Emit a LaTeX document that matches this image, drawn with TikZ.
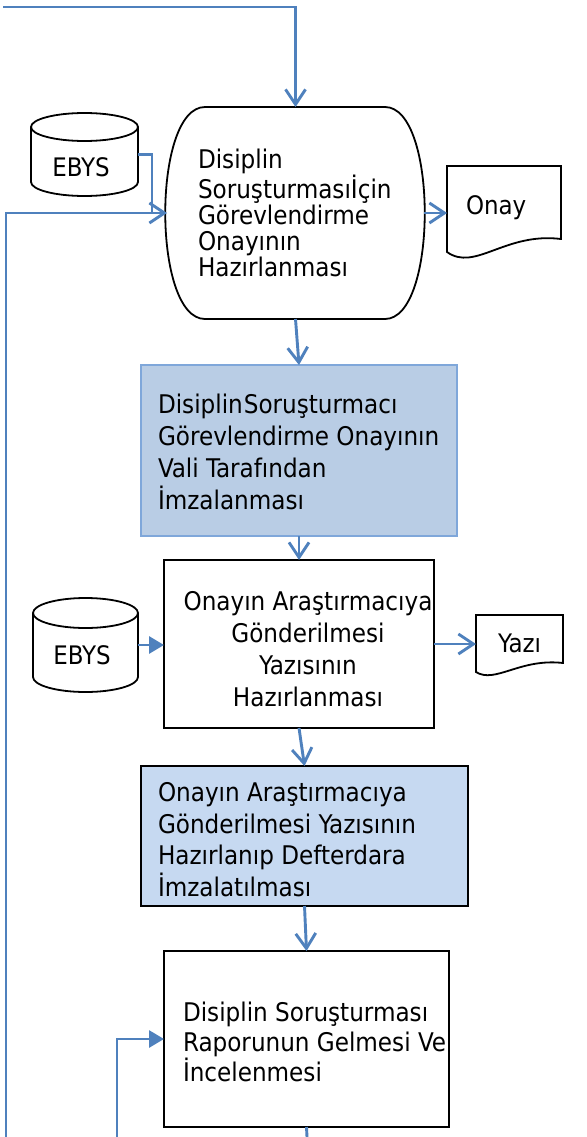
\documentclass[tikz,border=0pt]{standalone}
\usepackage{fontspec}
\setmainfont{DejaVu Sans Condensed}
\usetikzlibrary{arrows.meta,calc}
\definecolor{flowblue}{HTML}{4F81BD}
\definecolor{boxblue}{HTML}{B9CDE5}
\definecolor{boxblueline}{HTML}{7FA7DA}
\definecolor{boxlight}{HTML}{C6D9F1}
\begin{document}
\begin{tikzpicture}[x=1pt,y=-1pt,
  flow/.style={draw=flowblue,line width=2.9pt,-{Straight Barb[length=15pt,width=20pt,line width=2.9pt]}},
  flowfill/.style={draw=flowblue,line width=2.9pt,-{Triangle[length=15pt,width=17pt]}},
  plain/.style={draw=flowblue,line width=2.9pt},
  outline/.style={draw=black,line width=1.8pt},
  frame/.style={inner sep=0,outer sep=0,anchor=north west},
  txt/.style={inner sep=0,outer sep=0,font=\fontsize{25.7}{32}\selectfont},
  lbl/.style={inner sep=0,outer sep=0,font=\fontsize{25.5}{28}\selectfont}
]
\useasboundingbox (0,0) rectangle (586,1137);
\fill[white] (0,0) rectangle (586,1137);

% ---- frames (named anchors for shapes)
\node[frame,minimum width=257,minimum height=212] (t1) at (167,107) {};
\node[frame,minimum width=107,minimum height=83] (e1) at (31,113) {};
\node[frame,minimum width=114,minimum height=86] (onay) at (447,166) {};
\node[frame,draw=boxblueline,line width=1.8pt,fill=boxblue,minimum width=316,minimum height=171] (b2) at (141,365) {};
\node[frame,outline,fill=white,minimum width=270,minimum height=168] (b3) at (164,560) {};
\node[frame,minimum width=105,minimum height=94] (e2) at (33,598) {};
\node[frame,minimum width=87,minimum height=57] (yazi) at (476,615) {};
\node[frame,outline,fill=boxlight,minimum width=327,minimum height=140] (b4) at (141,766) {};
\node[frame,outline,fill=white,minimum width=285,minimum height=176] (b5) at (164,951) {};

% ---- terminator shape
\draw[outline] (205,107) -- (385,107)
  .. controls (438,107) and (438,319) .. (385,319) -- (205,319)
  .. controls (152,319) and (152,107) .. cycle;

% ---- cylinders
\draw[outline,fill=white] (31,127) -- (31,182) arc[start angle=180,end angle=360,x radius=53.5pt,y radius=14pt] -- (138,127);
\draw[outline] (84.5,127) ellipse [x radius=53.5pt,y radius=14pt];
\draw[outline,fill=white] (33,613) -- (33,677) arc[start angle=180,end angle=360,x radius=52.5pt,y radius=15pt] -- (138,613);
\draw[outline] (85.5,613) ellipse [x radius=52.5pt,y radius=15pt];

% ---- documents
\draw[outline,fill=white] (447,252) -- (447,166) -- (561,166) -- (561,239)
  .. controls (505,232) and (475,272) .. (447,252) -- cycle;
\draw[outline,fill=white] (476,672) -- (476,615) -- (563,615) -- (563,663)
  .. controls (520,658) and (495,684) .. (476,672) -- cycle;

% ---- texts (anchor base = baseline of the last line)
\node[txt,font=\fontsize{25.7}{26}\selectfont,align=left,anchor=base west] (t1txt) at (198,276)
  {Disiplin\\Soruşturmasıİçin\\Görevlendirme\\Onayının\\Hazırlanması};
\node[lbl,anchor=base] (e1txt) at (81,176) {EBYS};
\node[lbl,anchor=base west] (onaytxt) at (466,214) {Onay};
\node[txt,align=left,anchor=base west] (b2txt) at (158,509)
  {Disiplin\hspace{1pt}Soruşturmacı\\Görevlendirme Onayının\\Vali Tarafından\\İmzalanması};
\node[txt,align=center,anchor=base] (b3txt) at (308,706)
  {Onayın Araştırmacıya\\Gönderilmesi\\Yazısının\\Hazırlanması};
\node[lbl,anchor=base] (e2txt) at (82,664) {EBYS};
\node[lbl,anchor=base west] (yazitxt) at (498,652) {Yazı};
\node[txt,font=\fontsize{25.7}{31.5}\selectfont,align=left,anchor=base west] (b4txt) at (158,896)
  {Onayın Araştırmacıya\\Gönderilmesi Yazısının\\Hazırlanıp Defterdara\\İmzalatılması};
\node[txt,font=\fontsize{25.7}{30}\selectfont,align=left,anchor=base west] (b5txt) at (183,1081)
  {Disiplin Soruşturması\\Raporunun Gelmesi Ve\\İncelenmesi};

% ---- connectors
\coordinate (topstart) at (3,7);
\coordinate (fbleft) at (6,1137);
\coordinate (fbin) at (117,1137);
\coordinate (b5out) at (307,1137);
\coordinate (ejoin) at (152,212);

\draw[flow] (topstart) -| (t1.north);
\draw[plain] (e1.east) -| (ejoin);
\draw[flow] (fbleft) |- (t1.west);
\draw[flow] (t1.east) -- (t1.east -| onay.west);
\draw[flow] (t1.south) -- (b2.north);
\draw[flow] (b2.south) -- (b3.north);
\draw[flowfill] (e2.east) -- (e2.east -| b3.west);
\draw[flow] (b3.east) -- (b3.east -| yazi.west);
\draw[flow] (b3.south) -- (b4.north);
\draw[flow] (b4.south) -- (b5.north);
\draw[flowfill] (fbin) |- (b5.west);
\draw[plain] (b5.south) -- (b5out);
\end{tikzpicture}
\end{document}
